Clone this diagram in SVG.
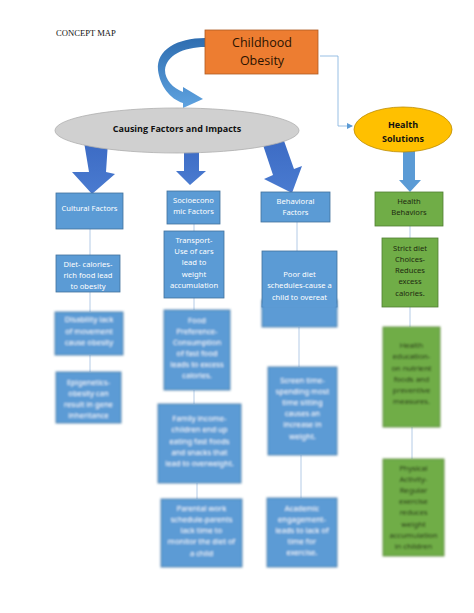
<svg xmlns="http://www.w3.org/2000/svg" width="474" height="613" viewBox="0 0 474 613">
<defs>
<style>
.bx{fill:#5B9BD5;stroke:#41719C;stroke-width:0.8}
.gb{fill:#70AD47;stroke:#507E32;stroke-width:0.8}
.wt{font-family:"Noto Sans","Liberation Sans",sans-serif;font-size:7.6px;fill:#fff;text-anchor:middle}
.dt{font-family:"Noto Sans","Liberation Sans",sans-serif;font-size:7.6px;fill:#1e2a10;text-anchor:middle}
.ln{stroke:#B4CBE6;stroke-width:1;fill:none}
.blur{filter:url(#bl)}
</style>
<filter id="bl" x="-10%" y="-10%" width="120%" height="120%"><feGaussianBlur stdDeviation="1.1"/></filter>
<linearGradient id="cg" x1="0" y1="0" x2="0" y2="1"><stop offset="0" stop-color="#2E6DB0"/><stop offset="1" stop-color="#5FA3E0"/></linearGradient>
<linearGradient id="ag" x1="0" y1="0" x2="0" y2="1"><stop offset="0" stop-color="#3C6BC4"/><stop offset="1" stop-color="#4A7BD0"/></linearGradient>
<marker id="ah" markerWidth="6" markerHeight="6" refX="5" refY="3" orient="auto" markerUnits="userSpaceOnUse"><path d="M0,0 L6,3 L0,6 Z" fill="#5B9BD5"/></marker>
</defs>
<rect width="474" height="613" fill="#fff"/>
<text x="56" y="36" font-family="'Liberation Serif',serif" font-size="8.6" fill="#111">CONCEPT MAP</text>

<g id="connectors">
<path d="M320,56 H338 V126 H352" stroke="#7FAEDD" stroke-width="0.8" fill="none" marker-end="url(#ah)"/>
<path class="ln" d="M90,229 V255 M90,292 V312 M90,355 V372"/>
<path class="ln" d="M194,224 V231 M194,298 V310 M194,390 V404 M197,483 V499"/>
<path class="ln" d="M297,222 V251 M299,327 V367 M301,455 V498"/>
<path class="ln" d="M410,226 V238 M410,307 V327 M412,427 V459"/>
<path d="M205,38 C177,38 156,50 158,70 C160,86 170,99 183,103 L183,108 L203,99 L183,87 L183,92 C173,88 165,80 165,70 C166,56 183,47 205,47 Z" fill="url(#cg)"/>
<polygon points="84,142 108,142 106,172 115,174 92,194 72,172 89,172" fill="url(#ag)"/>
<polygon points="184,145 199,145 199,171 206,171 190,185 176,171 184,171" fill="url(#ag)"/>
<polygon points="262,142 283,138 294,169 302,166 292,193 264,179 273,175" fill="url(#ag)"/>
<polygon points="403,148 415,148 415,180 421,180 410,192 399,180 403,180" fill="#5B9BD5"/>
</g>

<g id="childhood-obesity">
<rect x="205" y="30" width="113" height="44" fill="#ED7D31" stroke="#AE5A21" stroke-width="0.8"/>
<text x="262" y="47" font-family="'Open Sans','Liberation Sans',sans-serif" font-size="12.5" fill="#2a1200" text-anchor="middle">Childhood</text>
<text x="262" y="65" font-family="'Open Sans','Liberation Sans',sans-serif" font-size="12.5" fill="#2a1200" text-anchor="middle">Obesity</text>
</g>

<g id="causing-factors">
<ellipse cx="177" cy="130.5" rx="122" ry="22.5" fill="#D0D0D0" stroke="#AFAFAF" stroke-width="0.8"/>
<text x="177" y="131.5" font-family="'Open Sans','Liberation Sans',sans-serif" font-weight="bold" font-size="9" fill="#111" text-anchor="middle">Causing Factors and Impacts</text>
</g>

<g id="health-solutions">
<ellipse cx="403" cy="129.5" rx="49" ry="22.5" fill="#FFC000" stroke="#BC8C00" stroke-width="0.8"/>
<text x="403" y="127.5" font-family="'Open Sans','Liberation Sans',sans-serif" font-weight="bold" font-size="9" fill="#111" text-anchor="middle">Health</text>
<text x="403" y="141.5" font-family="'Open Sans','Liberation Sans',sans-serif" font-weight="bold" font-size="9" fill="#111" text-anchor="middle">Solutions</text>
</g>

<g id="cultural-factors">
<rect class="bx" x="56" y="193" width="67" height="36"/>
<text class="wt" x="89.5" y="211">Cultural Factors</text>
</g>
<g id="diet">
<rect class="bx" x="56" y="255" width="64" height="37"/>
<text class="wt" x="88" y="267">Diet- calories-</text>
<text class="wt" x="88" y="278">rich food lead</text>
<text class="wt" x="88" y="289">to obesity</text>
</g>
<g id="disability" class="blur">
<rect class="bx" x="55" y="312" width="68" height="43"/>
<text class="wt" x="89" y="322">Disability lack</text>
<text class="wt" x="89" y="334">of movement</text>
<text class="wt" x="89" y="345">cause obesity</text>
</g>
<g id="epigenetics" class="blur">
<rect class="bx" x="56" y="372" width="65" height="51"/>
<text class="wt" x="88.5" y="385">Epigenetics-</text>
<text class="wt" x="88.5" y="396">obesity can</text>
<text class="wt" x="88.5" y="407">result in gene</text>
<text class="wt" x="88.5" y="418">inheritance</text>
</g>

<g id="socioeconomic-factors">
<rect class="bx" x="167" y="191" width="53" height="33"/>
<text class="wt" x="193.5" y="203">Socioecono</text>
<text class="wt" x="193.5" y="214">mic Factors</text>
</g>
<g id="transport">
<rect class="bx" x="164" y="231" width="60" height="67"/>
<text class="wt" x="194" y="243">Transport-</text>
<text class="wt" x="194" y="254">Use of cars</text>
<text class="wt" x="194" y="265">lead to</text>
<text class="wt" x="194" y="277">weight</text>
<text class="wt" x="194" y="288">accumulation</text>
</g>
<g id="food-preference" class="blur">
<rect class="bx" x="164" y="310" width="66" height="80"/>
<text class="wt" x="197" y="323">Food</text>
<text class="wt" x="197" y="334">Preference-</text>
<text class="wt" x="197" y="345">Consumption</text>
<text class="wt" x="197" y="356">of fast food</text>
<text class="wt" x="197" y="367">leads to excess</text>
<text class="wt" x="197" y="378">calories.</text>
</g>
<g id="family-income" class="blur">
<rect class="bx" x="158" y="404" width="83" height="79"/>
<text class="wt" x="199.5" y="421">Family income-</text>
<text class="wt" x="199.5" y="432">children end up</text>
<text class="wt" x="199.5" y="444">eating fast foods</text>
<text class="wt" x="199.5" y="455">and snacks that</text>
<text class="wt" x="199.5" y="466">lead to overweight.</text>
</g>
<g id="parental-work" class="blur">
<rect class="bx" x="161" y="499" width="81" height="68"/>
<text class="wt" x="201.5" y="511">Parental work</text>
<text class="wt" x="201.5" y="522">schedule-parents</text>
<text class="wt" x="201.5" y="533">lack time to</text>
<text class="wt" x="201.5" y="544">monitor the diet of</text>
<text class="wt" x="201.5" y="556">a child</text>
</g>

<g id="behavioral-factors">
<rect class="bx" x="261" y="192" width="69" height="30"/>
<text class="wt" x="295.5" y="204">Behavioral</text>
<text class="wt" x="295.5" y="215">Factors</text>
</g>
<g id="poor-diet">
<rect class="bx blur" x="262" y="300" width="75" height="27"/>
<rect class="bx" x="262" y="251" width="75" height="56"/>
<rect x="262.5" y="304" width="74" height="5" fill="#5B9BD5" class="blur"/>
<text class="wt" x="299.5" y="277">Poor diet</text>
<text class="wt" x="299.5" y="288">schedules-cause a</text>
<text class="wt" x="299.5" y="300">child to overeat</text>
</g>
<g id="screen-time" class="blur">
<rect class="bx" x="268" y="367" width="69" height="88"/>
<text class="wt" x="302.5" y="383">Screen time-</text>
<text class="wt" x="302.5" y="394">spending most</text>
<text class="wt" x="302.5" y="405">time sitting</text>
<text class="wt" x="302.5" y="416">causes an</text>
<text class="wt" x="302.5" y="427">increase in</text>
<text class="wt" x="302.5" y="439">weight.</text>
</g>
<g id="academic" class="blur">
<rect class="bx" x="267" y="498" width="70" height="69"/>
<text class="wt" x="302" y="511">Academic</text>
<text class="wt" x="302" y="522">engagement-</text>
<text class="wt" x="302" y="533">leads to lack of</text>
<text class="wt" x="302" y="544">time for</text>
<text class="wt" x="302" y="555">exercise.</text>
</g>

<g id="health-behaviors">
<rect class="gb" x="375" y="192" width="68" height="34"/>
<text class="dt" x="409" y="204">Health</text>
<text class="dt" x="409" y="215">Behaviors</text>
</g>
<g id="strict-diet">
<rect class="gb" x="382" y="238" width="56" height="69"/>
<text class="dt" x="410" y="251">Strict diet</text>
<text class="dt" x="410" y="262">Choices-</text>
<text class="dt" x="410" y="273">Reduces</text>
<text class="dt" x="410" y="284">excess</text>
<text class="dt" x="410" y="296">calories.</text>
</g>
<g id="health-education" class="blur">
<rect class="gb" x="383" y="327" width="57" height="100"/>
<text class="dt" x="411.5" y="348">Health</text>
<text class="dt" x="411.5" y="359">education-</text>
<text class="dt" x="411.5" y="371">on nutrient</text>
<text class="dt" x="411.5" y="382">foods and</text>
<text class="dt" x="411.5" y="393">preventive</text>
<text class="dt" x="411.5" y="404">measures.</text>
</g>
<g id="physical-activity" class="blur">
<rect class="gb" x="383" y="459" width="61" height="97"/>
<text class="dt" x="413.5" y="471">Physical</text>
<text class="dt" x="413.5" y="482">Activity-</text>
<text class="dt" x="413.5" y="493">Regular</text>
<text class="dt" x="413.5" y="504">exercise</text>
<text class="dt" x="413.5" y="515">reduces</text>
<text class="dt" x="413.5" y="527">weight</text>
<text class="dt" x="413.5" y="538">accumulation</text>
<text class="dt" x="413.5" y="549">in children</text>
</g>
</svg>
